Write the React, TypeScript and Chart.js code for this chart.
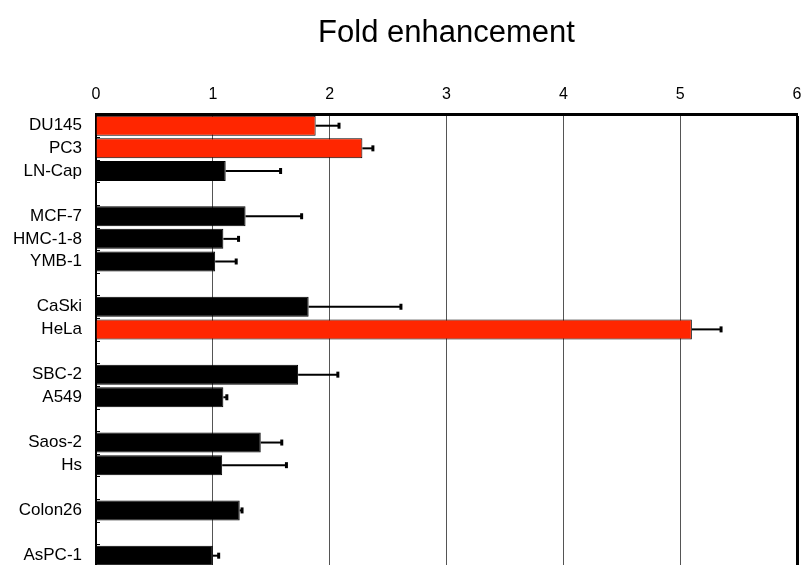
import React, { useEffect, useRef } from "react";
import { Chart, registerables } from "chart.js";

Chart.register(...registerables);

const categories = ["DU145", "PC3", "LN-Cap", "", "MCF-7", "HMC-1-8", "YMB-1", "", "CaSki", "HeLa", "", "SBC-2", "A549", "", "Saos-2", "Hs", "", "Colon26", "", "AsPC-1"];
const values = [1.88, 2.28, 1.11, null, 1.28, 1.09, 1.02, null, 1.82, 5.10, null, 1.73, 1.09, null, 1.41, 1.08, null, 1.23, null, 1.00];
const errorUpper = [2.08, 2.37, 1.58, null, 1.76, 1.22, 1.20, null, 2.61, 5.35, null, 2.07, 1.12, null, 1.59, 1.63, null, 1.25, null, 1.05];
const highlighted = ["DU145", "PC3", "HeLa"];
const xTicks = [0, 1, 2, 3, 4, 5, 6];
const titleText = "Fold enhancement";

const RED = "#ff2600";
const FONT = "'Liberation Sans', Arial, Helvetica, sans-serif";

const errorBarPlugin = {
  id: "errorBars",
  afterDatasetsDraw(chart: any) {
    const xs = chart.scales.x;
    const ys = chart.scales.y;
    const meta = chart.getDatasetMeta(0);
    const ctx = chart.ctx;
    ctx.save();
    ctx.strokeStyle = "#000";
    values.forEach((v, i) => {
      const e = errorUpper[i];
      if (v == null || e == null) return;
      const el = meta.data[i];
      const x1 = xs.getPixelForValue(v);
      const x2 = xs.getPixelForValue(e);
      const y = el.y;
      ctx.lineWidth = 2;
      ctx.beginPath();
      ctx.moveTo(x1, y);
      ctx.lineTo(x2, y);
      ctx.stroke();
      ctx.lineWidth = 3;
      ctx.beginPath();
      ctx.moveTo(x2, y - 3);
      ctx.lineTo(x2, y + 3);
      ctx.stroke();
    });
    // small inner tick marks on the category axis at category boundaries
    const left = chart.chartArea.left;
    ctx.lineWidth = 1;
    for (let i = 1; i < categories.length; i++) {
      const yb = (ys.getPixelForValue(i - 1) + ys.getPixelForValue(i)) / 2;
      ctx.beginPath();
      ctx.moveTo(left, Math.round(yb) + 0.5);
      ctx.lineTo(left + 4, Math.round(yb) + 0.5);
      ctx.stroke();
    }
    ctx.restore();
  },
};

export default function App() {
  const ref = useRef<HTMLCanvasElement | null>(null);
  useEffect(() => {
    if (!ref.current) return;
    const chart = new Chart(ref.current, {
      type: "bar",
      data: {
        labels: categories,
        datasets: [
          {
            data: values as any,
            backgroundColor: categories.map((c) => (highlighted.includes(c) ? RED : "#000")),
            borderColor: "#000",
            borderWidth: 1,
            barPercentage: 0.92,
            categoryPercentage: 0.96,
          },
        ],
      },
      options: {
        indexAxis: "y",
        animation: false,
        responsive: false,
        maintainAspectRatio: false,
        layout: { padding: { left: 0, right: 4, top: 0, bottom: 0 } },
        plugins: {
          legend: { display: false },
          tooltip: { enabled: false },
          title: {
            display: true,
            fullSize: false,
            text: titleText,
            color: "#000",
            font: { family: FONT, size: 31, weight: "normal" },
            padding: { top: 15, bottom: 23 },
          },
        },
        scales: {
          x: {
            position: "top",
            min: 0,
            max: 6,
            afterBuildTicks: (scale: any) => {
              scale.ticks = xTicks.map((v) => ({ value: v }));
            },
            afterFit: (scale: any) => {
              scale.paddingLeft = 0;
              scale.paddingRight = 0;
            },
            ticks: {
              color: "#000",
              font: { family: FONT, size: 16 },
              padding: 10,
            },
            grid: {
              drawTicks: false,
              color: (c: any) => (c.tick && c.tick.value === 6 ? "#000" : "#555"),
              lineWidth: (c: any) => (c.tick && c.tick.value === 6 ? 3 : 1),
            },
            border: { display: true, color: "#000", width: 3 },
          },
          y: {
            type: "category",
            ticks: {
              color: "#000",
              font: { family: FONT, size: 17 },
              padding: 14,
              autoSkip: false,
            },
            grid: { display: false, drawOnChartArea: false, drawTicks: false },
            border: { display: true, color: "#000", width: 2 },
            afterFit: (scale: any) => {
              scale.width = 96;
              scale.paddingTop = 0;
              scale.paddingBottom = 0;
            },
          },
        },
      },
      plugins: [errorBarPlugin],
    });
    return () => chart.destroy();
  }, []);
  return (
    <div style={{ position: "absolute", left: 0, top: 0, width: 801, height: 567 }}>
      <canvas ref={ref} width={801} height={567} style={{ display: "block" }} />
    </div>
  );
}
